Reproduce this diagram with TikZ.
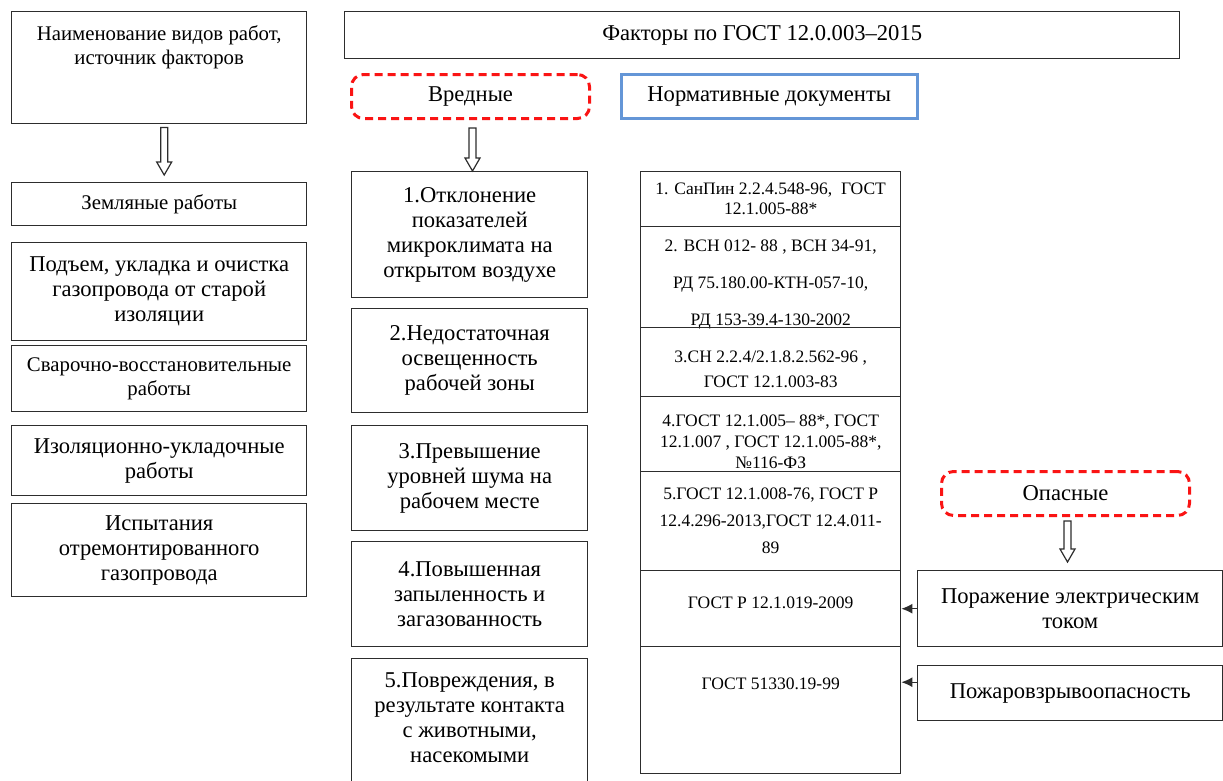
\documentclass[tikz,border=0pt]{standalone}
\usepackage{fontspec}
\setmainfont{Liberation Serif}
\usetikzlibrary{arrows.meta, positioning, calc}
\definecolor{xRed}{RGB}{250,20,20}
\definecolor{xBlue}{RGB}{100,150,215}
\definecolor{xLine}{RGB}{45,45,45}
\newcommand{\FszL}{\rmfamily\fontsize{22.6}{25}\selectfont}
\newcommand{\FszM}{\rmfamily\fontsize{20.8}{24}\selectfont}
\newcommand{\FszS}{\rmfamily\fontsize{17.5}{20}\selectfont}
\newcommand{\hollow}[2]{%
  \draw[hollowar] let \p1=#1, \p2=#2 in
    (\x1-3.5pt,\y1) -- (\x1+3.5pt,\y1) -- (\x1+3.5pt,\y2+13pt) -- (\x1+7.5pt,\y2+13pt)
    -- (\x1,\y2) -- (\x1-7.5pt,\y2+13pt) -- (\x1-3.5pt,\y2+13pt) -- cycle;}
\tikzset{
  box/.style={draw=xLine, line width=1.4pt, align=center, inner sep=3pt, font=\FszL, anchor=north west},
  grp/.style={draw=xRed, line width=3pt, rounded corners=12pt, dash pattern=on 8pt off 5pt,
              align=center, font=\FszL, anchor=north west},
  docs/.style={draw=xBlue, line width=2.5pt, align=center, font=\FszL, anchor=north west},
  cell/.style={draw=xLine, line width=1.4pt, align=center, inner sep=2pt, font=\FszS,
               anchor=north west, minimum width=260pt},
  toptext/.style={anchor=north, align=center},
  hollowar/.style={draw=xLine, line width=1.2pt, fill=white},
  ptr/.style={-{Latex[length=11pt,width=10pt]}, line width=1.2pt, xLine},
}
\begin{document}
\begin{tikzpicture}[x=1pt, y=-1pt]
  \useasboundingbox[fill=white] (0,0) rectangle (1223,780);
  % left column
  \node[box, minimum width=295pt, minimum height=112pt,
        label={[toptext, font=\FszM, yshift=-11pt]north:Наименование видов работ,\\источник факторов}]
        (naim) at (11,11) {};
  \node[box, font=\FszM, minimum width=295pt, minimum height=43pt] (zem) at (11,182) {Земляные работы};
  \node[box, minimum width=295pt, minimum height=98pt] (podem) at (11,242)
        {Подъем, укладка и очистка\\газопровода от старой\\изоляции};
  \node[box, font=\FszM, minimum width=295pt, minimum height=66pt] (svar) at (11,345)
        {Сварочно-восстановительные\\работы};
  \node[box, minimum width=295pt, minimum height=70pt] (izol) at (11,425)
        {Изоляционно-укладочные\\работы};
  \node[box, minimum width=295pt, minimum height=93pt] (ispyt) at (11,503)
        {Испытания\\отремонтированного\\газопровода};
  % header, groups
  \node[box, minimum width=835pt, minimum height=47pt] (fact) at (344,11) {Факторы по ГОСТ 12.0.003–2015};
  \node[grp, minimum width=238pt, minimum height=44pt] (vred) at (350,73) {Вредные};
  \node[docs, minimum width=296pt, minimum height=44pt] (norm) at (620,73) {Нормативные документы};
  \node[grp, minimum width=248pt, minimum height=44pt] (opas) at (940,470) {Опасные};
  % harmful factors
  \node[box, minimum width=236pt, minimum height=126pt] (f1) at (351,171)
        {1.Отклонение\\показателей\\микроклимата на\\открытом воздухе};
  \node[box, minimum width=236pt, minimum height=104pt] (f2) at (351,308)
        {2.Недостаточная\\освещенность\\рабочей зоны};
  \node[box, minimum width=236pt, minimum height=105pt] (f3) at (351,425)
        {3.Превышение\\уровней шума на\\рабочем месте};
  \node[box, minimum width=236pt, minimum height=105pt] (f4) at (351,541)
        {4.Повышенная\\запыленность и\\загазованность};
  \node[box, minimum width=236pt, minimum height=150pt,
        label={[toptext, font=\FszL, yshift=-11pt]north:5.Повреждения, в\\результате контакта\\с животными,\\насекомыми}]
        (f5) at (351,658) {};
  % documents table
  \node[cell, minimum height=55pt] (t1) at (640,171) {1. СанПин 2.2.4.548-96,~ ГОСТ\\12.1.005-88*};
  \node[cell, minimum height=101pt,
        label={[toptext, font=\FszS\fontsize{17.5}{37}\selectfont, yshift=-10pt]north:2. ВСН 012- 88 , ВСН 34-91,\\РД 75.180.00-КТН-057-10,\\РД 153-39.4-130-2002}]
        (t2) at (640,226) {};
  \node[cell, minimum height=69pt,
        label={[toptext, font=\FszS\fontsize{17.5}{25}\selectfont, yshift=-20pt]north:3.СН 2.2.4/2.1.8.2.562-96 ,\\ГОСТ 12.1.003-83}]
        (t3) at (640,327) {};
  \node[cell, minimum height=75pt,
        label={[toptext, font=\FszS\fontsize{17.5}{21}\selectfont, yshift=-15pt]north:4.ГОСТ 12.1.005– 88*, ГОСТ\\12.1.007 , ГОСТ 12.1.005-88*,\\№116-ФЗ}]
        (t4) at (640,396) {};
  \node[cell, minimum height=99pt, font=\FszS\fontsize{17.5}{27}\selectfont] (t5) at (640,471)
        {5.ГОСТ 12.1.008-76, ГОСТ Р\\12.4.296-2013,ГОСТ 12.4.011-\\89};
  \node[cell, minimum height=76pt,
        label={[toptext, font=\FszS, yshift=-23pt]north:ГОСТ Р 12.1.019-2009}] (t6) at (640,570) {};
  \node[cell, minimum height=127pt,
        label={[toptext, font=\FszS, yshift=-28pt]north:ГОСТ 51330.19-99}] (t7) at (640,646) {};
  % dangerous factors
  \node[box, minimum width=305pt, minimum height=76pt] (elec) at (917,570)
        {Поражение электрическим\\током};
  \node[box, minimum width=305pt, minimum height=55pt] (fire) at (917,665) {Пожаровзрывоопасность};
  % arrows
  \hollow{($(naim.south)+(5,3)$)}{($(zem.north)+(5,-7)$)}
  \hollow{($(vred.south)+(2,8)$)}{($(f1.north)+(2,0)$)}
  \hollow{($(opas.south)+(2,4)$)}{($(elec.north)+(-4,-8)$)}
  \draw[ptr] (elec.west) -- (elec.west -| t6.east);
  \draw[ptr] ([yshift=11pt]fire.west) -- ([yshift=11pt]fire.west -| t7.east);
\end{tikzpicture}
\end{document}
